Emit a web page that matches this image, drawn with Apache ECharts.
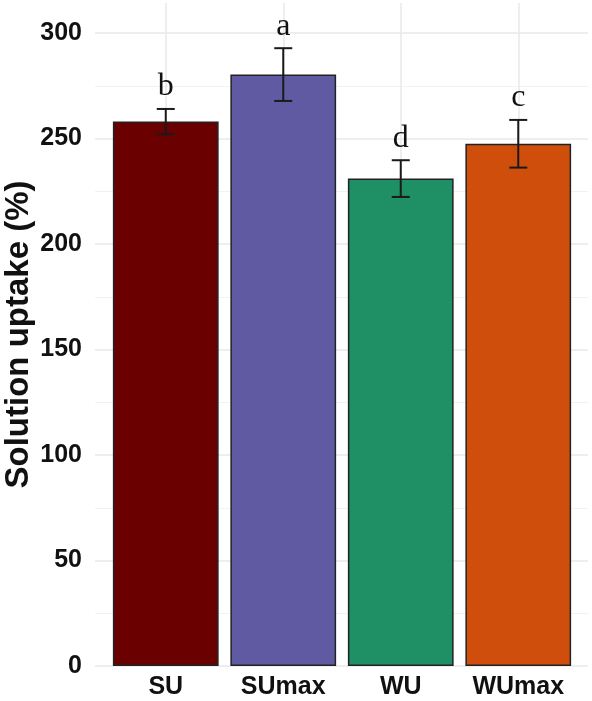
<!DOCTYPE html>
<html>
<head>
<meta charset="utf-8">
<script src="https://cdn.jsdelivr.net/npm/echarts@6/dist/echarts.min.js"></script>
<style>
  html, body { margin: 0; padding: 0; background: #fff; }
  #chart { width: 592px; height: 701px; }
</style>
</head>
<body>
<div id="chart"></div>
<script>
// groups and values
var categories = ['SU', 'SUmax', 'WU', 'WUmax'];
var means = [258, 280.3, 231, 247.5];
var errors = [6, 12.5, 8.7, 11.3];
var letters = ['b', 'a', 'd', 'c'];
var barColors = ['#6a0000', '#605aa3', '#1f8f65', '#cf4e0c'];

var yMin = 0, yMax = 300, yStep = 50;

// panel geometry (ggplot-like: panel a bit wider/taller than the bar area)
var bottom = 35, panelTop = 33, panelTopExt = 3;
var H = 701;
var yMaxExt = yMax * (H - bottom - panelTopExt) / (H - bottom - panelTop);

var fontSans = 'Liberation Sans, Arial, sans-serif';

var chart = echarts.init(document.getElementById('chart'), null, { renderer: 'canvas' });

var barData = means.map(function (m, i) {
  return { value: m, itemStyle: { color: barColors[i] } };
});
var errData = means.map(function (m, i) {
  return [i, m - errors[i], m + errors[i], letters[i]];
});

chart.setOption({
  animation: false,
  backgroundColor: '#fff',
  grid: [
    { left: 95, right: 4, top: panelTop, bottom: bottom, outerBoundsMode: 'none', containLabel: false },
    { left: 107, right: 15, top: panelTopExt, bottom: bottom, outerBoundsMode: 'none', containLabel: false }
  ],
  xAxis: [
    { gridIndex: 0, type: 'category', data: categories, show: false },
    {
      gridIndex: 1, type: 'category', data: categories,
      axisLine: { show: false }, axisTick: { show: false },
      axisLabel: {
        interval: 0, hideOverlap: false,
        margin: 9, fontSize: 25, fontWeight: 'bold', color: '#111', fontFamily: fontSans
      },
      splitLine: { show: true, interval: 0, alignWithLabel: true, lineStyle: { color: '#e8e8e8', width: 1.5 } }
    }
  ],
  yAxis: [
    {
      gridIndex: 0, type: 'value', min: yMin, max: yMax, interval: yStep,
      axisLine: { show: false }, axisTick: { show: false },
      axisLabel: { margin: 13, fontSize: 25, fontWeight: 'bold', color: '#111', fontFamily: fontSans },
      splitLine: { show: true, lineStyle: { color: '#e8e8e8', width: 1.5 } },
      minorTick: { show: false, splitNumber: 2 },
      minorSplitLine: { show: true, lineStyle: { color: '#f2f2f2', width: 1 } }
    },
    {
      gridIndex: 1, type: 'value', min: 0, max: yMaxExt,
      axisLine: { show: false }, axisTick: { show: false },
      axisLabel: { show: false }, splitLine: { show: false },
      name: 'Solution uptake (%)', nameLocation: 'middle', nameRotate: 90, nameGap: 72,
      nameTextStyle: { fontSize: 33, fontWeight: 'bold', color: '#111', fontFamily: fontSans }
    }
  ],
  series: [
    {
      type: 'bar', xAxisIndex: 1, yAxisIndex: 1,
      barWidth: '90%',
      data: barData,
      itemStyle: { borderColor: '#222', borderWidth: 1.5 }
    },
    {
      type: 'custom', xAxisIndex: 1, yAxisIndex: 1,
      data: errData,
      z: 5,
      renderItem: function (params, api) {
        var x = api.value(0);
        var lo = api.coord([x, api.value(1)]);
        var hi = api.coord([x, api.value(2)]);
        var half = 9;
        var st = { stroke: '#1a1a1a', lineWidth: 2 };
        return {
          type: 'group',
          children: [
            { type: 'line', shape: { x1: hi[0], y1: hi[1], x2: lo[0], y2: lo[1] }, style: st },
            { type: 'line', shape: { x1: hi[0] - half, y1: hi[1], x2: hi[0] + half, y2: hi[1] }, style: st },
            { type: 'line', shape: { x1: lo[0] - half, y1: lo[1], x2: lo[0] + half, y2: lo[1] }, style: st },
            {
              type: 'text',
              x: hi[0], y: hi[1] - 6,
              style: {
                text: api.value(3),
                fontSize: 32, fontFamily: 'Liberation Serif, Times New Roman, serif',
                fill: '#111', align: 'center', verticalAlign: 'bottom'
              }
            }
          ]
        };
      }
    }
  ]
});
</script>
</body>
</html>
